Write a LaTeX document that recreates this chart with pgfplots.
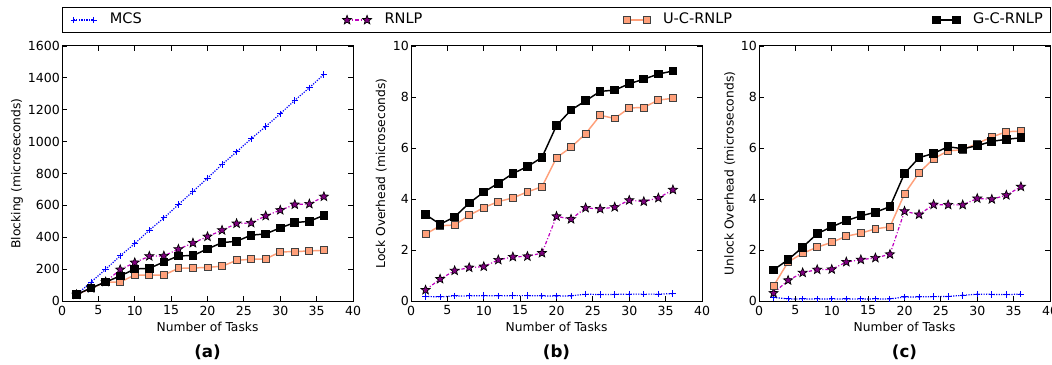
\documentclass[border=0pt]{standalone}
\usepackage{pgfplots}
\pgfplotsset{compat=1.18}
\usepackage{fontspec}
\setmainfont{DejaVu Sans}
\definecolor{mcsc}{rgb}{0,0,1}
\definecolor{rnlpc}{rgb}{0.75,0,0.75}
\definecolor{rnlpfill}{rgb}{0.5,0,0.5}
\definecolor{salmonc}{HTML}{FFA07A}
\pgfdeclareplotmark{fstar}{%
  \pgfpathmoveto{\pgfpointpolar{90}{\pgfplotmarksize}}%
  \pgfpathlineto{\pgfpointpolar{126}{0.42\pgfplotmarksize}}%
  \pgfpathlineto{\pgfpointpolar{162}{\pgfplotmarksize}}%
  \pgfpathlineto{\pgfpointpolar{198}{0.42\pgfplotmarksize}}%
  \pgfpathlineto{\pgfpointpolar{234}{\pgfplotmarksize}}%
  \pgfpathlineto{\pgfpointpolar{270}{0.42\pgfplotmarksize}}%
  \pgfpathlineto{\pgfpointpolar{306}{\pgfplotmarksize}}%
  \pgfpathlineto{\pgfpointpolar{342}{0.42\pgfplotmarksize}}%
  \pgfpathlineto{\pgfpointpolar{18}{\pgfplotmarksize}}%
  \pgfpathlineto{\pgfpointpolar{54}{0.42\pgfplotmarksize}}%
  \pgfpathclose
  \pgfusepathqfillstroke}
\pgfplotsset{
  panel/.style={
    scale only axis, width=218.25pt, height=191.25pt, anchor=south west,
    xmin=0, xmax=40, xtick={0,5,...,40},
    tick align=inside, major tick length=4pt, minor tick num=0,
    axis line style={line width=0.75pt},
    every tick/.style={black, line width=0.6pt},
    tick label style={font=\fontsize{9.4}{11}\selectfont},
    /pgf/number format/assume math mode=true,
    /pgf/number format/1000 sep={},
    scaled y ticks=false,
    yticklabel style={inner xsep=1.5pt},
    label style={font=\fontsize{9.2}{11}\selectfont},
    xlabel={Number of Tasks},
    xlabel style={at={(rel axis cs:0.5,0)}, anchor=base, yshift=-22.9pt},
    title style={at={(rel axis cs:0.5,0)}, anchor=base, yshift=-48pt, font=\fontsize{12.5}{14}\selectfont\bfseries},
    clip marker paths=true,
    legend image code/.code={\draw[#1] plot coordinates {(0pt,0pt) (15pt,0pt)};},
  },
  mcs/.style={color=mcsc, line width=0.9pt, densely dotted, mark=+, mark size=2.4pt, mark options={solid, line width=0.75pt}},
  rnlp/.style={color=rnlpc, line width=0.9pt, dash pattern=on 2.5pt off 1.5pt on 0.8pt off 1.5pt, mark=fstar, mark size=3.6pt, mark options={solid, draw=black, fill=rnlpfill, line width=0.5pt}},
  ucr/.style={color=salmonc, line width=1.1pt, solid, mark=square*, mark size=2.6pt, mark options={solid, draw=black!75, fill=salmonc, line width=0.6pt}},
  gcr/.style={color=black, line width=1.1pt, solid, mark=square*, mark size=2.7pt, mark options={solid, draw=black, fill=black}},
}
\begin{document}
\begin{tikzpicture}
\useasboundingbox (0,0) rectangle (789pt,273pt);
% ---------------- (a)
\begin{axis}[panel, at={(46.5pt,47.25pt)},
  ymin=0, ymax=1600, ytick={0,200,...,1600},
  ylabel={Blocking (microseconds)},
  ylabel style={at={(rel axis cs:0,0.5)}, anchor=center, yshift=33.75pt},
  title={(a)},
  legend columns=4,
  legend style={at={(rel axis cs:0,1)}, anchor=south west, yshift=9.75pt,
    draw=black, line width=0.8pt, inner xsep=6pt, inner ysep=4.3pt,
    font=\fontsize{10.9}{13}\selectfont,
    nodes={inner sep=0pt, text height=0.75em, text depth=0.25em},
    /tikz/every odd column/.append style={column sep=9.75pt},
    /tikz/every even column/.append style={column sep=150.5pt}},
]
\addplot[mcs] coordinates {(2,40)(4,119)(6,199)(8,283)(10,360)(12,444)(14,521)(16,605)(18,687)(20,771)(22,857)(24,936)(26,1018)(28,1095)(30,1175)(32,1259)(34,1338)(36,1422)};
\addlegendentry{MCS}
\addplot[rnlp] coordinates {(2,40)(4,80)(6,120)(8,197)(10,241)(12,281)(14,283)(16,325)(18,364)(20,404)(22,444)(24,486)(26,490)(28,534)(30,570)(32,605)(34,609)(36,655)};
\addlegendentry{RNLP}
\addplot[ucr] coordinates {(2,40)(4,80)(6,119)(8,119)(10,163)(12,163)(14,163)(16,205)(18,207)(20,211)(22,218)(24,255)(26,262)(28,264)(30,308)(32,310)(34,314)(36,318)};
\addlegendentry{U-C-RNLP}
\addplot[gcr] coordinates {(2,40)(4,82)(6,119)(8,157)(10,201)(12,205)(14,245)(16,283)(18,285)(20,327)(22,366)(24,375)(26,413)(28,421)(30,459)(32,492)(34,500)(36,538)};
\addlegendentry{G-C-RNLP}
\end{axis}
% ---------------- (b)
\begin{axis}[panel, at={(308.25pt,47.25pt)},
  ymin=0, ymax=10, ytick={0,2,...,10},
  ylabel={Lock Overhead (microseconds)},
  ylabel style={at={(rel axis cs:0,0.5)}, anchor=center, yshift=22.3pt},
  title={(b)},
]
\addplot[mcs] coordinates {(2,0.18)(4,0.16)(6,0.20)(8,0.20)(10,0.21)(12,0.20)(14,0.21)(16,0.21)(18,0.20)(20,0.20)(22,0.20)(24,0.27)(26,0.25)(28,0.26)(30,0.27)(32,0.27)(34,0.27)(36,0.29)};
\addplot[rnlp] coordinates {(2,0.43)(4,0.86)(6,1.19)(8,1.31)(10,1.35)(12,1.61)(14,1.73)(16,1.75)(18,1.88)(20,3.32)(22,3.21)(24,3.65)(26,3.61)(28,3.68)(30,3.95)(32,3.90)(34,4.04)(36,4.36)};
\addplot[ucr] coordinates {(2,2.62)(4,2.95)(6,2.98)(8,3.36)(10,3.66)(12,3.90)(14,4.04)(16,4.28)(18,4.48)(20,5.62)(22,6.03)(24,6.56)(26,7.28)(28,7.16)(30,7.57)(32,7.59)(34,7.88)(36,7.95)};
\addplot[gcr] coordinates {(2,3.39)(4,3.01)(6,3.30)(8,3.84)(10,4.27)(12,4.62)(14,5.00)(16,5.27)(18,5.63)(20,6.88)(22,7.49)(24,7.85)(26,8.22)(28,8.27)(30,8.52)(32,8.70)(34,8.90)(36,9.02)};
\end{axis}
% ---------------- (c)
\begin{axis}[panel, at={(569.25pt,47.25pt)},
  ymin=0, ymax=10, ytick={0,2,...,10},
  ylabel={Unlock Overhead (microseconds)},
  ylabel style={at={(rel axis cs:0,0.5)}, anchor=center, yshift=22pt},
  title={(c)},
]
\addplot[mcs] coordinates {(2,0.14)(4,0.08)(6,0.08)(8,0.08)(10,0.08)(12,0.08)(14,0.08)(16,0.08)(18,0.08)(20,0.16)(22,0.16)(24,0.17)(26,0.18)(28,0.22)(30,0.27)(32,0.26)(34,0.25)(36,0.27)};
\addplot[rnlp] coordinates {(2,0.31)(4,0.81)(6,1.11)(8,1.23)(10,1.24)(12,1.53)(14,1.62)(16,1.69)(18,1.83)(20,3.52)(22,3.39)(24,3.78)(26,3.77)(28,3.77)(30,4.02)(32,3.99)(34,4.15)(36,4.48)};
\addplot[ucr] coordinates {(2,0.59)(4,1.53)(6,1.87)(8,2.11)(10,2.30)(12,2.54)(14,2.66)(16,2.83)(18,2.91)(20,4.20)(22,5.03)(24,5.58)(26,5.89)(28,5.93)(30,6.18)(32,6.43)(34,6.64)(36,6.66)};
\addplot[gcr] coordinates {(2,1.22)(4,1.62)(6,2.11)(8,2.64)(10,2.91)(12,3.15)(14,3.34)(16,3.48)(18,3.70)(20,5.00)(22,5.62)(24,5.79)(26,6.05)(28,5.97)(30,6.09)(32,6.26)(34,6.34)(36,6.40)};
\end{axis}
\end{tikzpicture}
\end{document}
